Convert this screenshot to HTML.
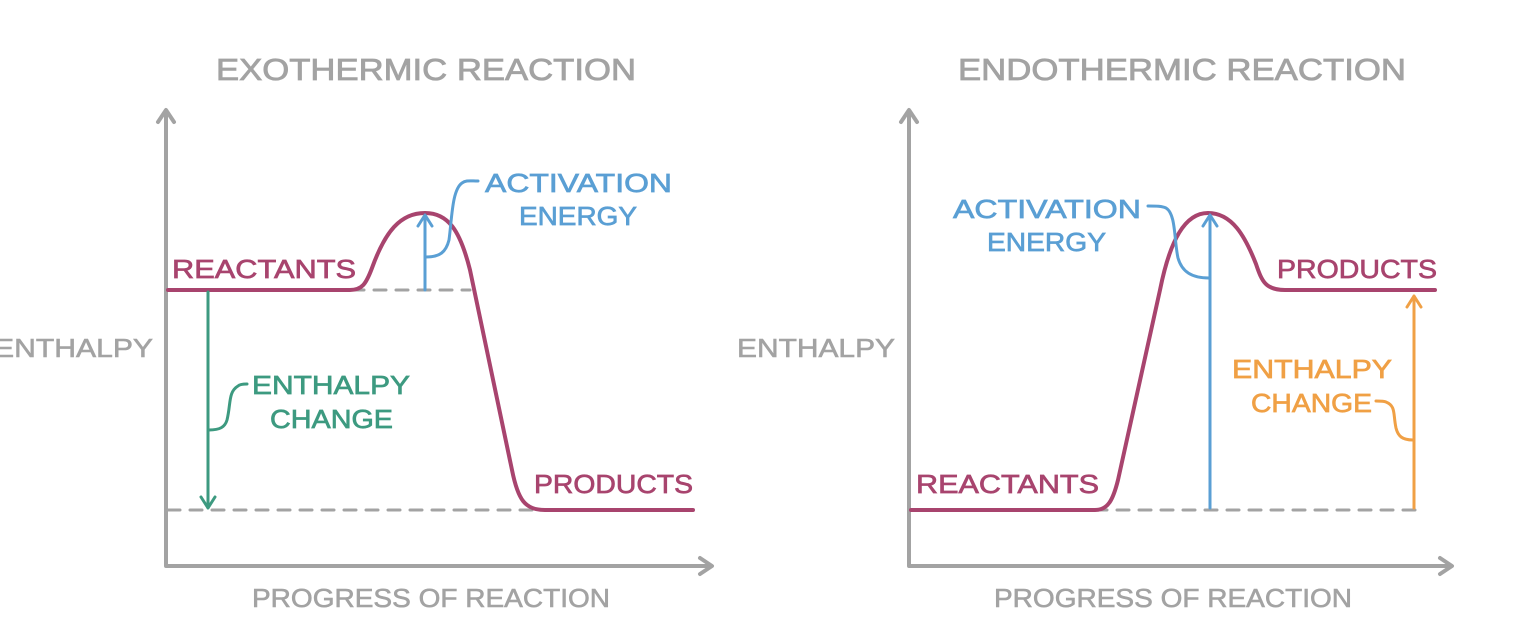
<!DOCTYPE html>
<html><head><style>
body{margin:0;background:#fff;}
svg text{font-family:"Liberation Sans","DejaVu Sans",sans-serif;}
</style></head><body>
<svg width="1526" height="628" viewBox="0 0 1526 628" xmlns="http://www.w3.org/2000/svg">
<g fill="none" stroke-linecap="round" stroke-linejoin="round">
<path d="M166,112 V566 H710" stroke="#a3a3a3" stroke-width="4"/>
<path d="M158,122 L166,110 L174,122 M700,558 L712,566 L700,574" stroke="#a3a3a3" stroke-width="4"/>
<path d="M352,290 H470 M168,510 H540" stroke="#a3a3a3" stroke-width="3" stroke-dasharray="12,10"/>
<path d="M168,290 H350 C362,290 366,284 372,268 C385,232 400,213 425,213 C448,213 460,230 470,270 L512,470 C518,500 525,510 545,510 H693" stroke="#a8446e" stroke-width="4"/>
<path d="M425,290 V217 M418,226 L425,215 L432,226" stroke="#5a9fd4" stroke-width="3"/>
<path d="M426,257 C440,257 446,252 449,240 C452,218 452,190 462,183 C466,180 470,181 478,181" stroke="#5a9fd4" stroke-width="3"/>
<path d="M208,292 V508 M201,497 L208,508 L215,497" stroke="#3d9a80" stroke-width="3"/>
<path d="M209,430 C220,430 225,427 227,420 C231,404 228,392 238,386 C240,384 244,384 247,384" stroke="#3d9a80" stroke-width="3"/>
<path d="M909,112 V566 H1450" stroke="#a3a3a3" stroke-width="4"/>
<path d="M901,122 L909,110 L917,122 M1440,558 L1452,566 L1440,574" stroke="#a3a3a3" stroke-width="4"/>
<path d="M1095,510 H1422" stroke="#a3a3a3" stroke-width="3" stroke-dasharray="12,10"/>
<path d="M911,510 H1095 C1108,510 1113,500 1118,480 L1160,290 C1170,240 1185,213 1208,213 C1232,213 1245,236 1256,264 C1262,282 1266,290 1285,290 H1435" stroke="#a8446e" stroke-width="4"/>
<path d="M1210,508 V217 M1203,226 L1210,215 L1217,226" stroke="#5a9fd4" stroke-width="3"/>
<path d="M1209,278 C1192,278 1182,272 1178,258 C1174,240 1176,214 1166,208 C1162,206 1156,206 1148,206" stroke="#5a9fd4" stroke-width="3"/>
<path d="M1414,508 V296 M1407,307 L1414,296 L1421,307" stroke="#f0a045" stroke-width="3"/>
<path d="M1413,440 C1402,440 1398,436 1396,428 C1393,414 1396,406 1386,402 C1384,401 1380,401 1376,401" stroke="#f0a045" stroke-width="3"/>
</g>
<g font-size="31" fill="#a3a3a3" stroke="#a3a3a3" stroke-width="0.8">
<text x="216" y="80" textLength="420" lengthAdjust="spacingAndGlyphs">EXOTHERMIC REACTION</text>
<text x="958" y="80" textLength="448" lengthAdjust="spacingAndGlyphs">ENDOTHERMIC REACTION</text>
</g>
<g font-size="26" fill="#a3a3a3" stroke="#a3a3a3" stroke-width="0.6">
<text x="-6" y="357" textLength="159" lengthAdjust="spacingAndGlyphs">ENTHALPY</text>
<text x="737" y="357" textLength="158" lengthAdjust="spacingAndGlyphs">ENTHALPY</text>
<text x="252" y="607" textLength="358" lengthAdjust="spacingAndGlyphs">PROGRESS OF REACTION</text>
<text x="994" y="607" textLength="358" lengthAdjust="spacingAndGlyphs">PROGRESS OF REACTION</text>
</g>
<g font-size="26" stroke-width="0.7" lengthAdjust="spacingAndGlyphs">
<text x="172" y="278" fill="#a8446e" stroke="#a8446e" textLength="184" lengthAdjust="spacingAndGlyphs">REACTANTS</text>
<text x="534" y="493" fill="#a8446e" stroke="#a8446e" textLength="159" lengthAdjust="spacingAndGlyphs">PRODUCTS</text>
<text x="485" y="192" fill="#5a9fd4" stroke="#5a9fd4" textLength="187" lengthAdjust="spacingAndGlyphs">ACTIVATION</text>
<text x="519" y="225" fill="#5a9fd4" stroke="#5a9fd4" textLength="118" lengthAdjust="spacingAndGlyphs">ENERGY</text>
<text x="252" y="394" fill="#3d9a80" stroke="#3d9a80" textLength="158" lengthAdjust="spacingAndGlyphs">ENTHALPY</text>
<text x="270" y="428" fill="#3d9a80" stroke="#3d9a80" textLength="123" lengthAdjust="spacingAndGlyphs">CHANGE</text>
<text x="916" y="493" fill="#a8446e" stroke="#a8446e" textLength="183" lengthAdjust="spacingAndGlyphs">REACTANTS</text>
<text x="1277" y="278" fill="#a8446e" stroke="#a8446e" textLength="160" lengthAdjust="spacingAndGlyphs">PRODUCTS</text>
<text x="953" y="218" fill="#5a9fd4" stroke="#5a9fd4" textLength="188" lengthAdjust="spacingAndGlyphs">ACTIVATION</text>
<text x="987" y="251" fill="#5a9fd4" stroke="#5a9fd4" textLength="119" lengthAdjust="spacingAndGlyphs">ENERGY</text>
<text x="1232" y="378" fill="#f0a045" stroke="#f0a045" textLength="160" lengthAdjust="spacingAndGlyphs">ENTHALPY</text>
<text x="1251" y="412" fill="#f0a045" stroke="#f0a045" textLength="121" lengthAdjust="spacingAndGlyphs">CHANGE</text>
</g>
</svg>
</body></html>
